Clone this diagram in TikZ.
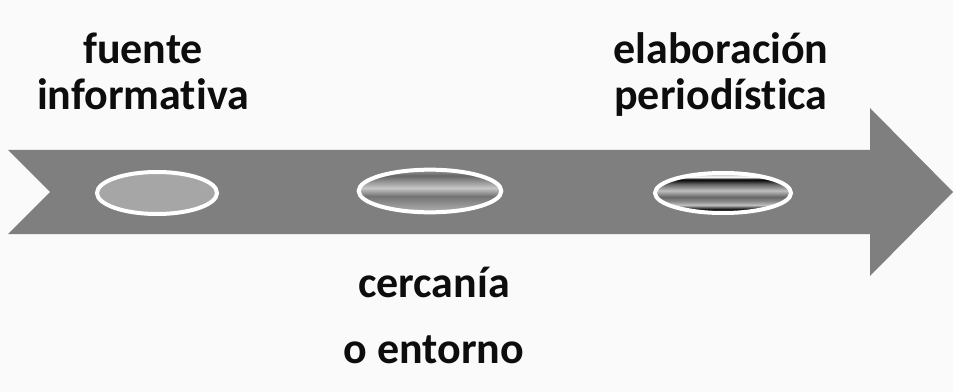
\documentclass[tikz,border=0pt]{standalone}
\usepackage{fontspec}
\setmainfont[Ligatures=NoCommon]{Carlito}
\usepackage{tikz}
\usetikzlibrary{shapes.geometric}
\usetikzlibrary{positioning}
\definecolor{paper}{HTML}{FAFAFA}
\definecolor{arrowgray}{HTML}{7F7F7F}
\definecolor{flatgray}{HTML}{A6A6A6}
\pgfdeclareverticalshading{cercania}{100bp}{color(0bp)=(black!40); color(25bp)=(black!40);
  color(32bp)=(black!60); color(46.5bp)=(black!22); color(56bp)=(black!55);
  color(75bp)=(black!30); color(100bp)=(black!30)}
\pgfdeclareverticalshading{elaborada}{100bp}{color(0bp)=(black!40); color(25bp)=(black!40);
  color(30bp)=(white); color(33bp)=(black); color(39bp)=(black!60); color(47bp)=(black!25);
  color(55bp)=(black!60); color(60.5bp)=(black!45); color(65bp)=(black!25);
  color(70.75bp)=(black); color(75bp)=(black!50); color(100bp)=(black!50)}

\begin{document}
\begin{tikzpicture}[x=0.75pt, y=-0.75pt,
    lbl/.style={font=\fontsize{33}{34.5}\selectfont\bfseries, text=black!95, inner sep=0pt, align=center},
    disc/.style={ellipse, draw=white, line width=3pt, inner sep=0pt}]
	\useasboundingbox[fill=paper] (0,0) rectangle (953,392);
	% the arrow
	\fill[arrowgray] (8,150) -- (870,150) -- (870,108) -- (953,192) -- (870,276)
		-- (870,234) -- (8,234) -- (50,192) -- cycle;
	% the three ellipses
	\node[disc, fill=flatgray, minimum width=90pt, minimum height=31.5pt] (e1) at (157,193) {};
	\node[disc, shading=cercania, shading angle=180, minimum width=107pt, minimum height=32pt] (e2) at (430,191) {};
	\node[disc, shading=elaborada, shading angle=180, minimum width=102pt, minimum height=30pt] (e3) at (723,193) {};
	% labels
	\node[lbl, anchor=base] (fuente) at (143,110) {fuente\\informativa};
	\node[lbl, anchor=base] (elab) at (721,110) {elaboración\\periodística};
	\node[lbl, anchor=base] (cerc) at (434,297) {cercanía};
	\node[lbl, anchor=base] (ent) at (434,363) {o entorno};
\end{tikzpicture}
\end{document}
